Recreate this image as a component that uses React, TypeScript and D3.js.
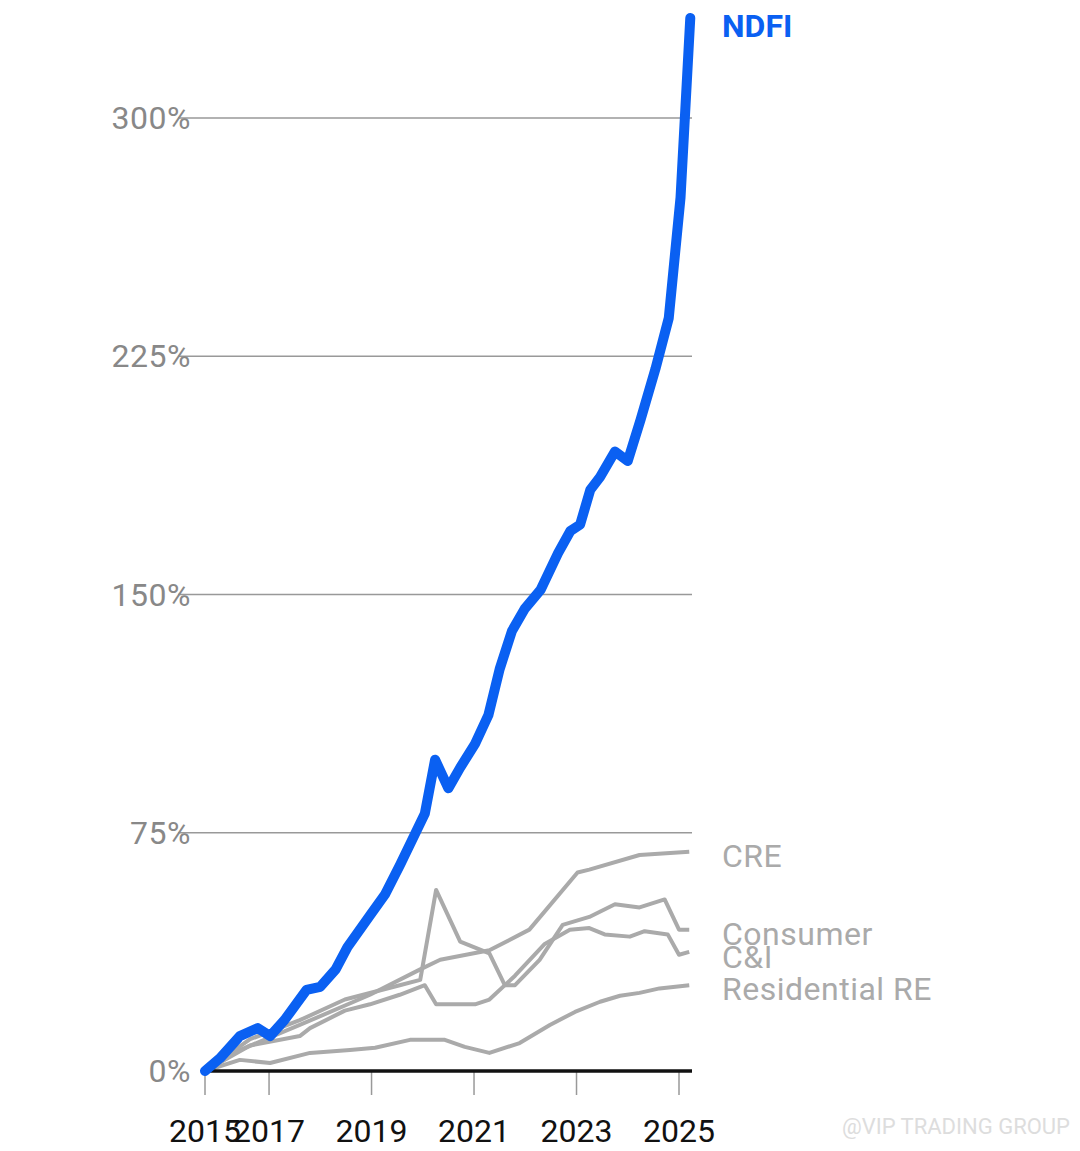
import * as d3 from 'd3';
import { useEffect, useRef } from 'react';

const yTicks = [0, 75, 150, 225, 300];
const xTicks = [2015.75, 2017, 2019, 2021, 2023, 2025];
const xTickLabels = ['2015', '2017', '2019', '2021', '2023', '2025'];

const ndfiYears = [2015.75, 2016.04, 2016.43, 2016.78, 2017.02, 2017.3, 2017.73, 2018, 2018.3, 2018.53, 2018.97, 2019.26, 2019.56, 2020.04, 2020.24, 2020.5, 2020.73, 2021.02, 2021.28, 2021.5, 2021.74, 2021.99, 2022.3, 2022.64, 2022.88, 2023.07, 2023.27, 2023.46, 2023.75, 2024.0, 2024.25, 2024.54, 2024.8, 2025.03, 2025.22];
const ndfiValues = [0, 4, 11, 13.5, 11, 16, 25.5, 26.5, 32, 39, 49, 55.5, 65, 81, 98, 89, 95.5, 103, 112, 126.5, 138.5, 145.5, 151.5, 163, 170, 172, 183, 187, 195, 192, 205, 221, 237, 275, 331.5];

const creYears = [2015.75, 2016.43, 2017.6, 2018.97, 2019.95, 2020.34, 2021.3, 2022.08, 2023.02, 2023.25, 2024.23, 2025.2];
const creValues = [0, 6.6, 14.5, 24, 32, 35, 38, 44.5, 62.5, 63.4, 68, 69];

const consumerYears = [2015.75, 2016.63, 2017.6, 2018.48, 2019.55, 2019.95, 2020.26, 2020.73, 2021.3, 2021.6, 2021.8, 2022.28, 2022.73, 2023.25, 2023.75, 2024.23, 2024.72, 2025.0, 2025.2];
const consumerValues = [0, 10, 16, 22.5, 27, 28.7, 57, 40.7, 37, 27, 27, 35, 46, 48.5, 52.5, 51.5, 54, 44.5, 44.5];

const ciYears = [2015.75, 2016.63, 2017.6, 2017.8, 2018.48, 2018.97, 2019.55, 2020.04, 2020.26, 2020.63, 2021.02, 2021.3, 2021.8, 2022.38, 2022.87, 2023.25, 2023.55, 2024.04, 2024.33, 2024.78, 2025.0, 2025.2];
const ciValues = [0, 8, 11, 13.5, 19, 21, 24, 27, 21, 21, 21, 22.5, 30, 40, 44.5, 45, 43, 42.3, 44, 43, 36.6, 37.5];

const resYears = [2015.75, 2016.43, 2017.02, 2017.8, 2018.58, 2019.07, 2019.75, 2020.43, 2020.82, 2021.3, 2021.89, 2022.48, 2022.97, 2023.46, 2023.85, 2024.23, 2024.62, 2025.2];
const resValues = [0, 3.5, 2.5, 5.7, 6.6, 7.3, 9.8, 9.8, 7.6, 5.7, 8.8, 14.5, 18.6, 21.8, 23.7, 24.6, 26, 27];

const grayNames = ['CRE', 'Consumer', 'C&I', 'Residential RE'];
const grayLabelY = [856, 934, 957, 989];

const FONT = 'Roboto, "Noto Sans", sans-serif';

const App = () => {
    const ref = useRef<SVGSVGElement>(null);

    useEffect(() => {
        const svg = d3.select(ref.current);
        svg.selectAll('*').remove();

        const x = d3.scaleLinear().domain([2015.75, 2025]).range([205, 679]);
        const y = d3.scaleLinear().domain([0, 300]).range([1071, 118]);
        const line = d3.line<[number, number]>().x((d) => x(d[0])).y((d) => y(d[1]));

        // grid
        svg.append('g').selectAll('line').data(yTicks.filter((t) => t > 0)).enter().append('line')
            .attr('x1', 178).attr('x2', 692)
            .attr('y1', (d) => y(d)).attr('y2', (d) => y(d))
            .attr('stroke', '#999').attr('stroke-width', 1.5);
        svg.append('g').selectAll('text').data(yTicks).enter().append('text')
            .attr('x', 191).attr('y', (d) => y(d) + 11)
            .attr('text-anchor', 'end').attr('fill', '#888')
            .style('font-family', FONT).style('font-size', '32px').style('letter-spacing', '0.5px')
            .text((d) => d + '%');

        // x ticks
        svg.append('g').selectAll('line').data(xTicks).enter().append('line')
            .attr('x1', (d) => x(d)).attr('x2', (d) => x(d))
            .attr('y1', 1071).attr('y2', 1095)
            .attr('stroke', '#999').attr('stroke-width', 1.5);
        svg.append('g').selectAll('text').data(xTicks).enter().append('text')
            .attr('x', (d) => x(d)).attr('y', 1142)
            .attr('text-anchor', 'middle').attr('fill', '#111')
            .style('font-family', FONT).style('font-size', '32px')
            .text((_d, i) => xTickLabels[i]);

        // gray series
        const grays: [number[], number[]][] = [
            [creYears, creValues], [consumerYears, consumerValues], [ciYears, ciValues], [resYears, resValues],
        ];
        grays.forEach(([ys, vs]) => {
            svg.append('path')
                .attr('d', line(ys.map((yy, i) => [yy, vs[i]] as [number, number])))
                .attr('fill', 'none').attr('stroke', '#aaa').attr('stroke-width', 4)
                .attr('stroke-linejoin', 'round');
        });
        svg.append('g').selectAll('text').data(grayNames).enter().append('text')
            .attr('x', 722).attr('y', (_d, i) => grayLabelY[i] + 11)
            .attr('fill', '#aaa')
            .style('font-family', FONT).style('font-size', '32px').style('letter-spacing', '0.5px')
            .text((d) => d);

        // zero line
        svg.append('line').attr('x1', 205).attr('x2', 692).attr('y1', y(0)).attr('y2', y(0))
            .attr('stroke', '#111').attr('stroke-width', 3.5);

        // NDFI
        svg.append('path')
            .attr('d', line(ndfiYears.map((yy, i) => [yy, ndfiValues[i]] as [number, number])))
            .attr('fill', 'none').attr('stroke', '#0a60f2').attr('stroke-width', 10)
            .attr('stroke-linejoin', 'round').attr('stroke-linecap', 'round');
        svg.append('text').attr('x', 722).attr('y', 37).attr('fill', '#0a60f2')
            .style('font-family', FONT).style('font-size', '32px').style('font-weight', 700)
            .text('NDFI');

        // watermark
        svg.append('text').attr('x', 1070).attr('y', 1134).attr('text-anchor', 'end')
            .attr('fill', '#ddd').style('font-family', FONT).style('font-size', '22px')
            .text('@VIP TRADING GROUP');
    }, []);

    return (
        <svg ref={ref} width={1080} height={1151}
            style={{ position: 'absolute', left: 0, top: 0, background: '#fff' }} />
    );
};

export default App;
